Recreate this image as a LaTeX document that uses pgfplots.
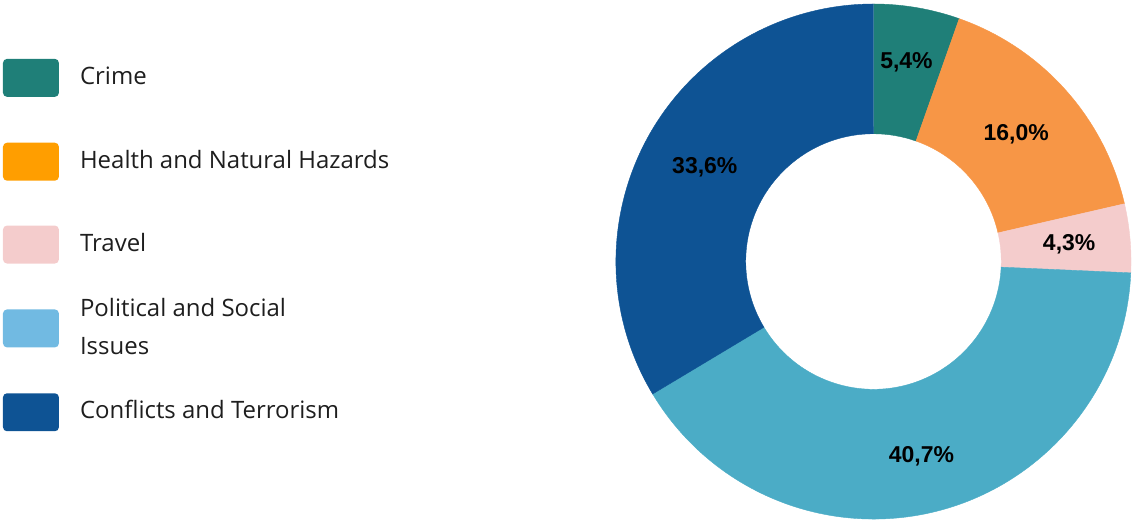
\documentclass[border=0pt]{standalone}
\usepackage{pgfplots}
\pgfplotsset{compat=1.18}
\usepackage{fontspec}
\setmainfont{Open Sans}
\newfontfamily\labfont{Liberation Sans}
\definecolor{cCrime}{HTML}{1F7F78}
\definecolor{cHealth}{HTML}{F79646}
\definecolor{cHealthL}{HTML}{FF9E00}
\definecolor{cTravel}{HTML}{F4CCCC}
\definecolor{cPol}{HTML}{4BACC6}
\definecolor{cPolL}{HTML}{71BAE2}
\definecolor{cConf}{HTML}{0E5394}
\definecolor{txt}{HTML}{1E1E1E}
% data (percent)
\def\vA{5.4}\def\vB{16.0}\def\vC{4.3}\def\vD{40.7}\def\vE{33.6}
\pgfmathsetmacro\aA{90}
\pgfmathsetmacro\aB{\aA-3.6*\vA}
\pgfmathsetmacro\aC{\aB-3.6*\vB}
\pgfmathsetmacro\aD{\aC-3.6*\vC}
\pgfmathsetmacro\aE{\aD-3.6*\vD}
\pgfmathsetmacro\aF{\aE-3.6*\vE}
\newcommand\seg[3]{%
  \fill[#1,draw=#1,line width=0.4pt] (axis cs:{258*cos(#2)},{258*sin(#2)}) arc[start angle=#2,end angle=#3,radius=258pt]
   -- (axis cs:{128*cos(#3)},{128*sin(#3)}) arc[start angle=#3,end angle=#2,radius=128pt] -- cycle;}
\newcommand\sw[2]{%
  \fill[#1,rounded corners=4pt] (axis cs:-872,{262-#2+19}) rectangle (axis cs:-816,{262-#2-19});}
\begin{document}
\begin{tikzpicture}
\begin{axis}[width=1132pt,height=519pt,scale only axis,
  xmin=-875,xmax=257,ymin=-257,ymax=262,hide axis,clip=false]
\path (axis cs:-875,-257) rectangle (axis cs:257,262);
\seg{cCrime}{\aA}{\aB}
\seg{cHealth}{\aB}{\aC}
\seg{cTravel}{\aC}{\aD}
\seg{cPol}{\aD}{\aE}
\seg{cConf}{\aE}{\aF}
\begin{scope}[every node/.style={font=\labfont\bfseries\fontsize{23}{27}\selectfont,text=black}]
\node at (axis cs:33,200) {5,4\%};
\node at (axis cs:143,127) {16,0\%};
\node at (axis cs:196,17) {4,3\%};
\node at (axis cs:48,-195) {40,7\%};
\node at (axis cs:-169,94) {33,6\%};
\end{scope}
\sw{cCrime}{78}
\sw{cHealthL}{162}
\sw{cTravel}{245}
\sw{cPolL}{329}
\sw{cConf}{413}
\begin{scope}[every node/.style={font=\fontsize{24}{38}\selectfont,text=txt,anchor=west,inner sep=0pt,align=left}]
\node at (axis cs:-795,{262-76}) {Crime};
\node at (axis cs:-795,{262-160}) {Health and Natural Hazards};
\node at (axis cs:-795,{262-243}) {Travel};
\node at (axis cs:-795,{262-327}) {Political and Social\\Issues};
\node at (axis cs:-795,{262-410}) {Conflicts and Terrorism};
\end{scope}
\end{axis}
\end{tikzpicture}
\end{document}
